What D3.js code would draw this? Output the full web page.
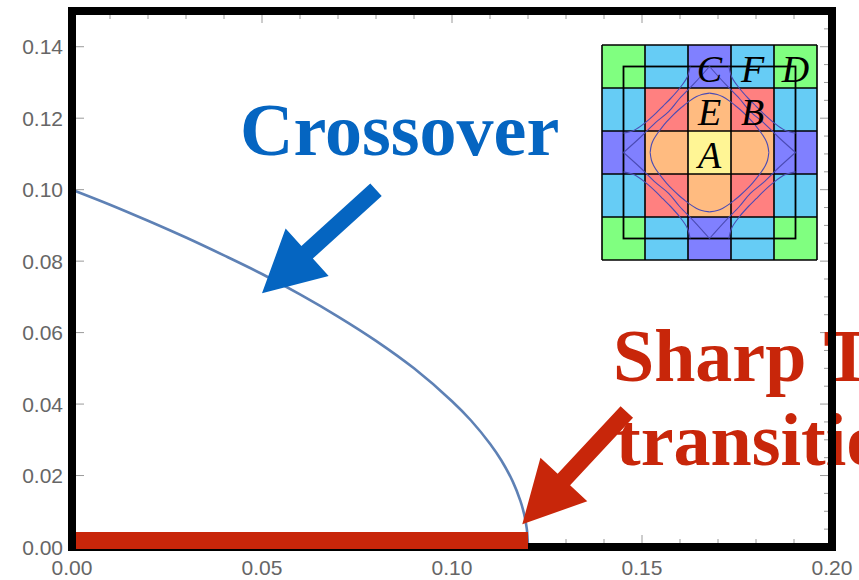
<!DOCTYPE html>
<html><head><meta charset="utf-8">
<script src="https://cdn.jsdelivr.net/npm/d3@7"></script>
<style>html,body{margin:0;padding:0;background:#fff}</style>
</head><body>
<svg id="chart" width="859" height="580"></svg>
<script>
// ---------------- data ----------------
const crossoverX = [0, 0.01, 0.02, 0.03, 0.04, 0.05, 0.06, 0.07, 0.08, 0.09, 0.10, 0.105, 0.11, 0.113, 0.116, 0.118, 0.119, 0.1197, 0.12];
const crossoverY = [0.100, 0.0958, 0.0913, 0.0866, 0.0816, 0.0764, 0.0707, 0.0645, 0.0577, 0.0500, 0.0408, 0.0354, 0.0289, 0.0242, 0.0183, 0.0129, 0.0091, 0.0050, 0.000];
const sharpStart = 0;
const sharpEnd = 0.12;

const xTickValues = [0, 0.05, 0.10, 0.15, 0.20];
const xTickLabels = ["0.00", "0.05", "0.10", "0.15", "0.20"];
const yTickValues = [0, 0.02, 0.04, 0.06, 0.08, 0.10, 0.12, 0.14];
const yTickLabels = ["0.00", "0.02", "0.04", "0.06", "0.08", "0.10", "0.12", "0.14"];

// annotation arrows: [tailX, tailY, tipX, tipY] in data units
const crossoverArrow = [0.080, 0.100, 0.050, 0.071];
const sharpArrow = [0.146, 0.0378, 0.1185, 0.0064];

// inset (5x5 grid of zones)
const insetColors = [
  ["#80FF80", "#66CCF5", "#8080FF", "#66CCF5", "#80FF80"],
  ["#66CCF5", "#FF8080", "#FFBB80", "#FF8080", "#66CCF5"],
  ["#8080FF", "#FFBB80", "#FFF595", "#FFBB80", "#8080FF"],
  ["#66CCF5", "#FF8080", "#FFBB80", "#FF8080", "#66CCF5"],
  ["#80FF80", "#66CCF5", "#8080FF", "#66CCF5", "#80FF80"]
];
const insetLetters = ["A", "E", "B", "C", "F", "D"];
const insetLetterCol = [2, 2, 3, 2, 3, 4];
const insetLetterRow = [2, 1, 1, 0, 0, 0];
// contour curves, upper-left quarter (inset units, cell = 1, centre = 0)
const blobQuarter = [[-1.38, 0], [-1.35, -0.18], [-1.30, -0.30], [-1.20, -0.46], [-1.10, -0.59], [-1.00, -0.71], [-0.86, -0.86], [-0.71, -1.00], [-0.59, -1.10], [-0.46, -1.20], [-0.30, -1.30], [-0.18, -1.35], [0, -1.38]];
const diamondQuarter = [[-2, 0], [-1.60, -0.36], [-1.25, -0.70], [-0.95, -0.95], [-0.70, -1.25], [-0.36, -1.60], [0, -2]];
const arcQuarter = [[-2, -0.45], [-1.75, -0.52], [-1.50, -0.69], [-1.25, -0.91], [-1.08, -1.08], [-0.91, -1.25], [-0.69, -1.50], [-0.52, -1.75], [-0.45, -2]];

// ---------------- drawing ----------------
const svg = d3.select("#chart");
const W = 859, H = 580;
svg.append("rect").attr("width", W).attr("height", H).attr("fill", "#fff");

const x = d3.scaleLinear().domain([0, 0.2]).range([72, 832]);
const y = d3.scaleLinear().domain([0, 0.15]).range([547, 11]);

const blue = "#0565C1", red = "#C8260A";

// ticks (drawn under frame)
const tickG = svg.append("g").attr("stroke", "#9a9a9a").attr("stroke-width", 1);
const xMinor = d3.range(0, 0.2001, 0.01);
const yMinor = d3.range(0, 0.1501, 0.005);
const isMajor = (val, step) => Math.abs(val / step - Math.round(val / step)) < 1e-6;
xMinor.forEach(val => {
  const L = isMajor(val, 0.05) ? 12 : 8;
  tickG.append("line").attr("x1", x(val)).attr("x2", x(val)).attr("y1", y(0.15)).attr("y2", y(0.15) + L);
  tickG.append("line").attr("x1", x(val)).attr("x2", x(val)).attr("y1", y(0)).attr("y2", y(0) - L);
});
yMinor.forEach(val => {
  const L = isMajor(val, 0.02) ? 12 : 8;
  tickG.append("line").attr("y1", y(val)).attr("y2", y(val)).attr("x1", x(0.2)).attr("x2", x(0.2) - L);
});
yTickValues.forEach(val => {
  tickG.append("line").attr("y1", y(val)).attr("y2", y(val)).attr("x1", x(0)).attr("x2", x(0) + 12);
});

// tick labels
const lab = svg.append("g").attr("font-family", "Liberation Sans, Arial, sans-serif").attr("font-size", 21).attr("fill", "#666");
yTickValues.forEach((val, i) => {
  lab.append("text").attr("x", 63).attr("y", y(val)).attr("text-anchor", "end").attr("dominant-baseline", "central").text(yTickLabels[i]);
});
xTickValues.forEach((val, i) => {
  lab.append("text").attr("x", x(val)).attr("y", 575).attr("text-anchor", "middle").text(xTickLabels[i]);
});

// crossover curve
const pts = crossoverX.map((d, i) => [d, crossoverY[i]]);
svg.append("path").datum(pts)
  .attr("d", d3.line().x(d => x(d[0])).y(d => y(d[1])).curve(d3.curveCatmullRom.alpha(0.5)))
  .attr("fill", "none").attr("stroke", "#5E81B5").attr("stroke-width", 2.6);

// annotation text (under frame)
const serif = "Liberation Serif, Times New Roman, serif";
svg.append("text").attr("x", 240).attr("y", 155).attr("font-family", serif).attr("font-weight", "bold")
  .attr("font-size", 74).attr("fill", blue).text("Crossover");
svg.append("text").attr("x", 613).attr("y", 381).attr("font-family", serif).attr("font-weight", "bold")
  .attr("font-size", 74).attr("fill", red).text("Sharp T");
svg.append("text").attr("x", 616).attr("y", 465).attr("font-family", serif).attr("font-weight", "bold")
  .attr("font-size", 74).attr("fill", red).text("transition");

// frame
svg.append("rect").attr("x", x(0)).attr("y", y(0.15)).attr("width", x(0.2) - x(0)).attr("height", y(0) - y(0.15))
  .attr("fill", "none").attr("stroke", "#000").attr("stroke-width", 8);

// sharp transition thick line
svg.append("rect").attr("x", x(sharpStart) + 4).attr("y", y(0) - 15)
  .attr("width", x(sharpEnd) - x(sharpStart) - 4).attr("height", 17).attr("fill", red);

// arrows
function arrowPath(a, shaftW, headW, headL) {
  const x1 = x(a[0]), y1 = y(a[1]), x2 = x(a[2]), y2 = y(a[3]);
  const dx = x2 - x1, dy = y2 - y1, L = Math.hypot(dx, dy);
  const ux = dx / L, uy = dy / L, nx = -uy, ny = ux;
  const bx = x2 - ux * headL, by = y2 - uy * headL;
  const p = [
    [x1 + nx * shaftW / 2, y1 + ny * shaftW / 2],
    [bx + nx * shaftW / 2, by + ny * shaftW / 2],
    [bx + nx * headW / 2, by + ny * headW / 2],
    [x2, y2],
    [bx - nx * headW / 2, by - ny * headW / 2],
    [bx - nx * shaftW / 2, by - ny * shaftW / 2],
    [x1 - nx * shaftW / 2, y1 - ny * shaftW / 2]
  ];
  return "M" + p.map(q => q.join(",")).join("L") + "Z";
}
svg.append("path").attr("d", arrowPath(crossoverArrow, 17, 64, 61)).attr("fill", blue);
svg.append("path").attr("d", arrowPath(sharpArrow, 17, 64, 61)).attr("fill", red);

// inset
const u = d3.scaleLinear().domain([-2.5, 2.5]).range([602, 817]);
const v = d3.scaleLinear().domain([-2.5, 2.5]).range([45, 260]);
const ins = svg.append("g");
insetColors.forEach((row, r) => row.forEach((c, k) => {
  ins.append("rect").attr("x", u(k - 2.5)).attr("y", v(r - 2.5))
    .attr("width", u(1) - u(0)).attr("height", v(1) - v(0)).attr("fill", c);
}));
const gridG = ins.append("g").attr("stroke", "#000").attr("stroke-width", 1.6);
d3.range(-2.5, 2.51, 1).forEach(t => {
  gridG.append("line").attr("x1", u(t)).attr("x2", u(t)).attr("y1", v(-2.5)).attr("y2", v(2.5));
  gridG.append("line").attr("y1", v(t)).attr("y2", v(t)).attr("x1", u(-2.5)).attr("x2", u(2.5));
});
ins.append("rect").attr("x", u(-2)).attr("y", v(-2)).attr("width", u(2) - u(-2)).attr("height", v(2) - v(-2))
  .attr("fill", "none").attr("stroke", "#000").attr("stroke-width", 1.8);

const cl = d3.line().x(d => u(d[0])).y(d => v(d[1])).curve(d3.curveCatmullRom);
const quads = [[1, 1], [-1, 1], [1, -1], [-1, -1]];
[blobQuarter, diamondQuarter, arcQuarter].forEach(q => {
  quads.forEach(s => {
    ins.append("path").datum(q.map(p => [p[0] * s[0], p[1] * s[1]]))
      .attr("d", cl).attr("fill", "none").attr("stroke", "#4B4BB4").attr("stroke-width", 1.1);
  });
});
insetLetters.forEach((t, i) => {
  ins.append("text").attr("x", u(insetLetterCol[i] - 2)).attr("y", v(insetLetterRow[i] - 2) + 2)
    .attr("text-anchor", "middle").attr("dominant-baseline", "central")
    .attr("font-family", serif).attr("font-style", "italic").attr("font-size", 38).attr("fill", "#000").text(t);
});
</script>
</body></html>
